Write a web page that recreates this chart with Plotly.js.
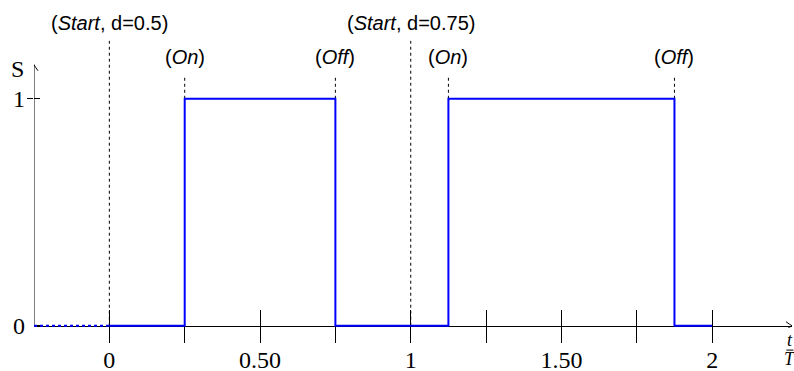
<!DOCTYPE html>
<html>
<head>
<meta charset="utf-8">
<script src="https://cdn.plot.ly/plotly-3.0.1.min.js"></script>
<style>html,body{margin:0;padding:0;background:#fff;}#chart{width:794px;height:371px;}</style>
</head>
<body>
<div id="chart"></div>
<script>
// Signal S(t/T): switching instants and levels
const stepX = [0, 0.25, 0.75, 1.125, 1.875, 2];
const stepY = [0, 1, 0, 1, 0, 0];
const preX = [-0.25, 0];
const preY = [0, 0];
// Event markers
const startX = [0, 1];
const startLabels = ['(<i>Start</i>, d=0.5)', '(<i>Start</i>, d=0.75)'];
const switchX = [0.25, 0.75, 1.125, 1.875];
const switchLabels = ['(<i>On</i>)', '(<i>Off</i>)', '(<i>On</i>)', '(<i>Off</i>)'];
// Axis ticks
const xTickVals = [0, 0.25, 0.5, 0.75, 1, 1.25, 1.5, 1.75, 2];
const xTickText = ['0', '', '0.50', '', '1', '', '1.50', '', '2'];
const yTickVals = [0, 1];
const yTickText = ['0', '1'];

const X0 = -0.25, X1 = 2.265, YTOP = 1.15;
const startTop = 1.255, switchTop = 1.1;
const startLabelY = 1.335, switchLabelY = 1.185;

const ghost = {mode: 'lines', line: {width: 0}, opacity: 0, hoverinfo: 'skip'};
const traces = [
  Object.assign({x: preX, y: preY, xaxis: 'x2', yaxis: 'y'}, ghost),
  Object.assign({x: preX, y: preY, xaxis: 'x3', yaxis: 'y'}, ghost),
  Object.assign({x: preX, y: preY, xaxis: 'x', yaxis: 'y2'}, ghost),
  {x: preX, y: preY, mode: 'lines', line: {color: 'rgb(0,0,255)', width: 2, dash: 'dot'}, hoverinfo: 'skip'},
  {x: stepX, y: stepY, mode: 'lines', line: {color: 'rgb(0,0,255)', width: 2, shape: 'hv'}, hoverinfo: 'skip'}
];

const shapes = [];
startX.forEach(v => shapes.push({type: 'line', xref: 'x', yref: 'y', x0: v, x1: v, y0: 0, y1: startTop, layer: 'below', line: {color: 'black', width: 1, dash: 'dot'}}));
switchX.forEach(v => shapes.push({type: 'line', xref: 'x', yref: 'y', x0: v, x1: v, y0: 1, y1: switchTop, layer: 'below', line: {color: 'black', width: 1, dash: 'dot'}}));
// y axis line and arrowheads
shapes.push({type: 'line', xref: 'x', yref: 'y', x0: X0, x1: X0, y0: 0, y1: YTOP, layer: 'below', line: {color: 'black', width: 1}});
shapes.push({type: 'path', xref: 'x', yref: 'y', xsizemode: 'pixel', ysizemode: 'pixel', xanchor: X1, yanchor: 0,
  path: 'M -6 4 Q -2 1 0 0 Q -2 -1 -6 -4', line: {color: 'black', width: 1}});
shapes.push({type: 'path', xref: 'x', yref: 'y', xsizemode: 'pixel', ysizemode: 'pixel', xanchor: X0, yanchor: YTOP,
  path: 'M -4 -6 Q -1 -2 0 0 Q 1 -2 4 -6', line: {color: 'black', width: 1}});
// fraction bar of t/T
shapes.push({type: 'line', xref: 'paper', yref: 'paper', x0: 0.9925, x1: 1.002, y0: -0.069, y1: -0.069, line: {color: 'black', width: 1}});

const annotations = [];
startX.forEach((v, i) => annotations.push({x: v, y: startLabelY, xref: 'x', yref: 'y', text: startLabels[i], showarrow: false, xanchor: 'center', yanchor: 'middle', font: {family: 'Liberation Sans', size: 20, color: 'black'}}));
switchX.forEach((v, i) => annotations.push({x: v, y: switchLabelY, xref: 'x', yref: 'y', text: switchLabels[i], showarrow: false, xanchor: 'center', yanchor: 'middle', font: {family: 'Liberation Sans', size: 20, color: 'black'}}));
annotations.push({x: X0, y: 1.13, xref: 'x', yref: 'y', text: 'S', showarrow: false, xanchor: 'right', yanchor: 'middle', xshift: -8, font: {family: 'Liberation Serif', size: 24, color: 'black'}});
annotations.push({x: 0.9975, y: -0.036, xref: 'paper', yref: 'paper', text: '<i>t</i>', showarrow: false, xanchor: 'center', yanchor: 'middle', borderpad: 0, font: {family: 'Liberation Serif', size: 18, color: 'black'}});
annotations.push({x: 0.9975, y: -0.097, xref: 'paper', yref: 'paper', text: '<i>T</i>', showarrow: false, xanchor: 'center', yanchor: 'middle', borderpad: 0, font: {family: 'Liberation Serif', size: 18, color: 'black'}});

const pos0 = 0.01 / 1.41;
const tickCommon = {range: [X0, X1], anchor: 'free', position: pos0, showgrid: false, zeroline: false,
  tickmode: 'array', tickvals: xTickVals, tickwidth: 1, tickcolor: 'black', layer: 'below traces'};
const layout = {
  width: 794, height: 371,
  margin: {l: 34, r: 2, t: 8, b: 43},
  paper_bgcolor: 'white', plot_bgcolor: 'white',
  showlegend: false,
  xaxis: Object.assign({}, tickCommon, {showline: true, linecolor: 'black', linewidth: 1,
    ticktext: xTickText, ticks: '', ticklabelstandoff: 12,
    tickfont: {family: 'Liberation Serif', size: 24, color: 'black'}}),
  xaxis2: Object.assign({}, tickCommon, {overlaying: 'x', showline: false, ticks: 'outside', ticklen: 16, showticklabels: false}),
  xaxis3: Object.assign({}, tickCommon, {overlaying: 'x', showline: false, ticks: 'inside', ticklen: 16, showticklabels: false}),
  yaxis: {range: [-0.01, 1.4], showgrid: false, zeroline: false, showline: false,
    tickmode: 'array', tickvals: yTickVals, ticktext: yTickText, ticks: 'inside', ticklen: 6, tickwidth: 1, tickcolor: 'black',
    ticklabelstandoff: 8,
    tickfont: {family: 'Liberation Serif', size: 24, color: 'black'}, layer: 'below traces'},
  yaxis2: {range: [-0.01, 1.4], overlaying: 'y', side: 'left', showgrid: false, zeroline: false, showline: false,
    tickmode: 'array', tickvals: [1], ticks: 'outside', ticklen: 6, tickwidth: 1, tickcolor: 'black', showticklabels: false},
  shapes: shapes,
  annotations: annotations
};

Plotly.newPlot('chart', traces, layout, {staticPlot: true, displayModeBar: false});
</script>
</body>
</html>
